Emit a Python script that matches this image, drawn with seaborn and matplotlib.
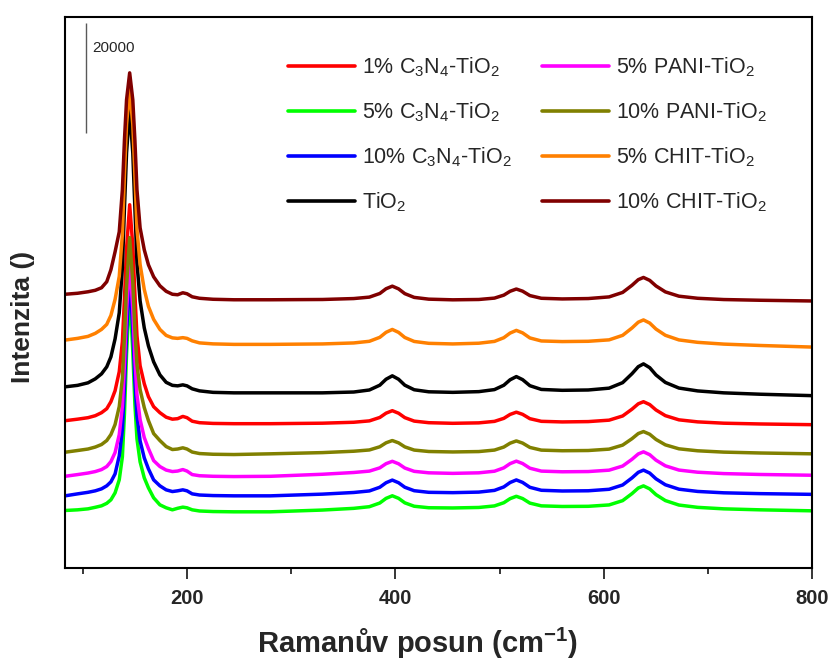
import numpy as np
import pandas as pd
import matplotlib
matplotlib.use("Agg")
from matplotlib import pyplot as plt
import seaborn as sns

# Raman shift (cm-1), shared by all spectra
shift = [83, 95, 105, 112, 118, 123, 127, 131, 135, 138, 140, 142, 145, 148, 150, 152, 155, 159, 163, 168,
         174, 180, 186, 191, 196, 200, 205, 212, 225, 245,
         280, 330, 360, 375, 385, 391, 397, 403, 409, 418, 432, 455, 480, 495, 504, 510, 516, 522, 529, 540,
         560, 585, 605, 618, 627, 633, 638, 644, 650, 659, 672, 690, 715, 750, 800]

# intensities (counts, above each sample's own baseline)
chit_10 = [1000, 1180, 1450, 1720, 2180, 3270, 5450, 8710, 12340, 19970, 29040, 36300, 41200, 36300, 29040,
           19970, 13070, 9080, 6350, 4170, 2540, 1540, 1000, 910, 1270, 1090, 540, 270, 90, 0,
           0, 50, 220, 480, 1140, 2000, 2470, 1980, 1110, 430, 110, -10, 50, 300, 840, 1540, 1950, 1560, 760, 270,
           150, 220, 520, 1330, 2630, 3650, 4050, 3520, 2510, 1430, 650, 270, 40, -90, -220]
chit_5 = [780, 1090, 1450, 2000, 2720, 3630, 5260, 8170, 12340, 19970, 30860, 39930, 46280, 39930, 30860,
          20870, 14520, 9980, 6900, 4540, 2720, 1630, 1180, 1090, 1220, 1090, 640, 270, 90, 0,
          0, 80, 260, 560, 1280, 2190, 2710, 2180, 1250, 530, 190, 80, 210, 540, 1210, 2050, 2540, 2090, 1170, 620,
          510, 560, 820, 1640, 2980, 4030, 4440, 3870, 2780, 1650, 810, 370, 50, -200, -490]
tio2 = [1090, 1360, 1820, 2540, 3450, 4720, 6530, 9800, 14520, 22690, 33580, 43560, 51360, 43560, 33580,
        23600, 16700, 11800, 8530, 5630, 3270, 1910, 1360, 1270, 1450, 1270, 730, 360, 90, 0,
        0, 0, 150, 520, 1390, 2470, 3090, 2470, 1390, 560, 190, 90, 220, 590, 1380, 2370, 2950, 2400, 1300, 620,
        460, 520, 850, 1850, 3480, 4750, 5260, 4570, 3250, 1890, 870, 350, 0, -250, -510]
c3n4_1 = [540, 820, 1090, 1450, 2000, 2720, 3990, 5990, 9440, 14880, 22690, 31760, 39750, 32310, 23600,
          15970, 10530, 7260, 4900, 3090, 2000, 1180, 820, 910, 1320, 1090, 450, 180, 50, 0,
          0, 90, 260, 510, 1130, 1910, 2360, 1900, 1100, 470, 180, 70, 150, 420, 970, 1680, 2090, 1700, 910, 430,
          320, 380, 640, 1400, 2640, 3610, 3990, 3470, 2490, 1460, 700, 330, 90, -50, -180]
pani_10 = [420, 730, 1000, 1360, 1820, 2540, 3630, 5450, 8710, 13790, 21420, 30490, 39390, 31220, 22690,
           16340, 11800, 8530, 6170, 3810, 2540, 1450, 910, 1000, 1220, 1000, 450, 180, 50, 0,
           130, 350, 600, 830, 1410, 2130, 2540, 2120, 1390, 810, 550, 470, 540, 810, 1360, 2060, 2470, 2080, 1290, 800,
           690, 730, 980, 1710, 2880, 3810, 4170, 3680, 2740, 1760, 1040, 680, 440, 280, 130]
pani_5 = [50, 360, 640, 910, 1270, 1820, 2720, 4360, 7620, 12710, 20330, 29950, 39020, 30490, 21420,
          14880, 10350, 7080, 5080, 2900, 1820, 1180, 910, 1000, 1270, 1000, 360, 150, 50, 0,
          50, 420, 740, 990, 1580, 2340, 2770, 2320, 1550, 950, 680, 580, 680, 970, 1580, 2350, 2800, 2370, 1520, 990,
          870, 910, 1160, 1910, 3140, 4110, 4490, 3970, 2980, 1950, 1180, 790, 540, 380, 240]
c3n4_10 = [0, 360, 640, 910, 1270, 1820, 2540, 3990, 7260, 11980, 19600, 29580, 40110, 30130, 20870,
           14520, 9980, 6900, 4900, 2900, 1820, 1090, 780, 910, 1090, 910, 360, 150, 50, 0,
           0, 310, 610, 890, 1560, 2380, 2860, 2380, 1560, 930, 640, 580, 680, 990, 1620, 2420, 2890, 2440, 1550, 1010,
           880, 920, 1190, 1970, 3260, 4270, 4670, 4130, 3090, 2010, 1210, 800, 550, 400, 270]
c3n4_5 = [240, 360, 540, 820, 1090, 1540, 2180, 3450, 5810, 9980, 17790, 28680, 40290, 29040, 19600,
          13250, 9080, 6170, 4360, 2540, 1270, 730, 360, 640, 850, 730, 360, 150, 50, 0,
          0, 320, 630, 930, 1600, 2440, 2910, 2450, 1630, 1010, 740, 700, 790, 1070, 1650, 2390, 2820, 2410, 1580, 1080,
          970, 1000, 1250, 2030, 3310, 4320, 4710, 4160, 3120, 2040, 1230, 810, 540, 360, 180]

# stacking offsets (counts)
offsets = [26200, 10200, 13100, 31800, 16600, 20600, 40600, 48700]

labels = ["1% C$_3$N$_4$-TiO$_2$", "5% C$_3$N$_4$-TiO$_2$", "10% C$_3$N$_4$-TiO$_2$", "TiO$_2$",
          "5% PANI-TiO$_2$", "10% PANI-TiO$_2$", "5% CHIT-TiO$_2$", "10% CHIT-TiO$_2$"]
series = [c3n4_1, c3n4_5, c3n4_10, tio2, pani_5, pani_10, chit_5, chit_10]
colors = ["#ff0000", "#00ff00", "#0000ff", "#000000", "#ff00ff", "#808000", "#ff8000", "#800000"]

scale_bar = 20000


def plot(outf):
    sns.set_style("ticks")
    plt.rcParams['font.family'] = ['Liberation Sans', 'DejaVu Sans']
    plt.rcParams['mathtext.fontset'] = 'custom'
    plt.rcParams['mathtext.rm'] = 'Liberation Sans'
    plt.rcParams['mathtext.it'] = 'Liberation Sans:italic'
    plt.rcParams['mathtext.bf'] = 'Liberation Sans:bold'

    frames = []
    for lab, vals, off in zip(labels, series, offsets):
        frames.append(pd.DataFrame({"shift": shift,
                                    "I": np.array(vals) + off,
                                    "Vzorek": lab}))
    df = pd.concat(frames, ignore_index=True)

    fig, ax = plt.subplots(figsize=(8.34, 6.62), dpi=100)
    fig.subplots_adjust(left=0.078, right=0.974, top=0.974, bottom=0.142)
    sns.lineplot(data=df, x="shift", y="I", hue="Vzorek", hue_order=labels,
                 palette=dict(zip(labels, colors)), estimator=None, sort=False,
                 linewidth=2.5, ax=ax)

    # two legend columns, placed separately
    handles, labs = ax.get_legend_handles_labels()
    ax.get_legend().remove()
    kw = dict(loc="upper left", frameon=False, fontsize=15.5, handlelength=3.1,
              handletextpad=0.33, labelspacing=1.0, borderpad=0, borderaxespad=0)
    leg1 = ax.legend(handles[:4], labs[:4], bbox_to_anchor=(0.2985, 0.931), **kw)
    for h in leg1.get_lines():
        h.set_linewidth(2.6)
    ax.add_artist(leg1)
    leg2 = ax.legend(handles[4:], labs[4:], bbox_to_anchor=(0.6386, 0.931), **kw)
    for h in leg2.get_lines():
        h.set_linewidth(2.6)

    # scale bar
    ax.vlines(103, 79000, 79000 + scale_bar, color="0.35", linewidth=1)
    ax.text(109, 94400, "%d" % scale_bar, fontsize=11, va="center", ha="left")

    ax.set_xlim(83, 800)
    ax.set_ylim(0, 100000)
    ax.set_xticks([200, 400, 600, 800])
    ax.set_xticks([100, 300, 500, 700], minor=True)
    ax.set_yticks([])
    ax.tick_params(axis="x", which="major", direction="out", length=8, width=1.3,
                   labelsize=14.5, pad=7)
    ax.tick_params(axis="x", which="minor", direction="out", length=4, width=1.3)
    for lab in ax.get_xticklabels():
        lab.set_fontweight("bold")
    for sp in ax.spines.values():
        sp.set_visible(True)
        sp.set_linewidth(1.5)
        sp.set_color("black")

    ax.set_xlabel("Ramanův posun (cm$^{\\mathbf{-1}}$)", fontsize=21, fontweight="bold")
    ax.xaxis.set_label_coords(0.472, -0.105)
    ax.set_ylabel("Intenzita ()", fontsize=19, fontweight="bold")
    ax.yaxis.set_label_coords(-0.04, 0.4555)

    plt.savefig(outf, dpi=100)


if __name__ == "__main__":
    plot("out.png")
